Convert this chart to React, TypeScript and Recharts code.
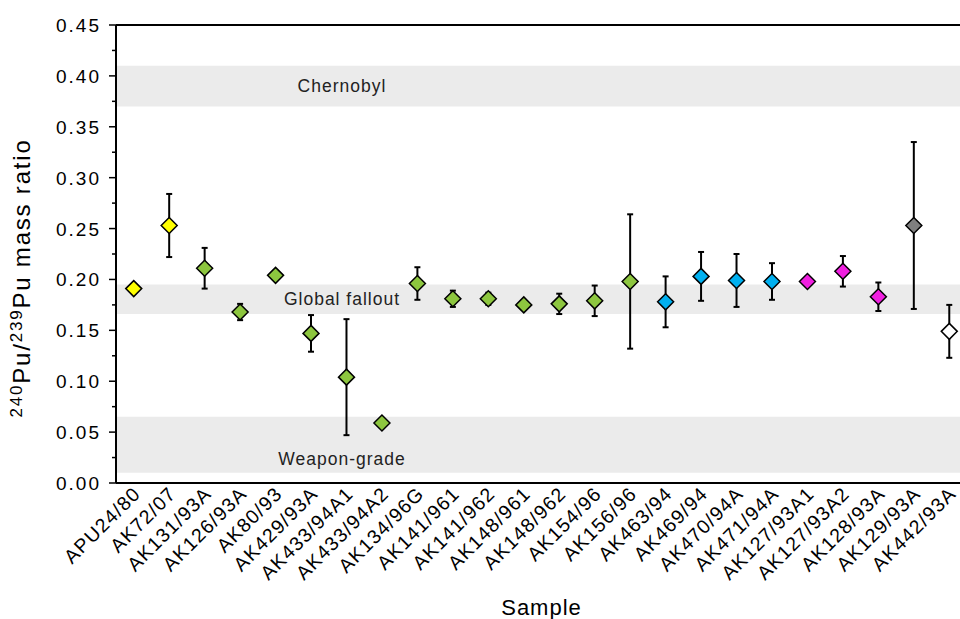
import React from 'react';
import {
  ComposedChart,
  Scatter,
  ErrorBar,
  XAxis,
  YAxis,
  ReferenceArea,
  ReferenceLine,
  Label,
} from 'recharts';

const samples = [
  'APU24/80', 'AK72/07', 'AK131/93A', 'AK126/93A', 'AK80/93', 'AK429/93A',
  'AK433/94A1', 'AK433/94A2', 'AK134/96G', 'AK141/961', 'AK141/962', 'AK148/961',
  'AK148/962', 'AK154/96', 'AK156/96', 'AK463/94', 'AK469/94', 'AK470/94A',
  'AK471/94A', 'AK127/93A1', 'AK127/93A2', 'AK128/93A', 'AK129/93A', 'AK442/93A',
];
const ratios = [
  0.191, 0.253, 0.211, 0.168, 0.204, 0.147, 0.104, 0.059, 0.196, 0.181, 0.181, 0.175,
  0.176, 0.179, 0.198, 0.178, 0.203, 0.199, 0.198, 0.198, 0.208, 0.183, 0.253, 0.149,
];
const errors = [
  0.004, 0.031, 0.020, 0.008, 0.004, 0.018, 0.057, 0.0, 0.016, 0.008, 0.006, 0.003,
  0.010, 0.015, 0.066, 0.025, 0.024, 0.026, 0.018, 0.0, 0.015, 0.014, 0.082, 0.026,
];
const colors = [
  '#ffff00', '#ffff00', '#8dc63f', '#8dc63f', '#8dc63f', '#8dc63f', '#8dc63f', '#8dc63f',
  '#8dc63f', '#8dc63f', '#8dc63f', '#8dc63f', '#8dc63f', '#8dc63f', '#8dc63f', '#00b0f0',
  '#00b0f0', '#00b0f0', '#00b0f0', '#f020e0', '#f020e0', '#f020e0', '#7f7f7f', '#ffffff',
];

const bands = [
  { name: 'Chernobyl', from: 0.37, to: 0.41, pos: 0.5 },
  { name: 'Global fallout', from: 0.166, to: 0.195, pos: 0.5 },
  { name: 'Weapon-grade', from: 0.01, to: 0.065, pos: 0.76 },
];

const yTicks = [0, 0.025, 0.05, 0.075, 0.1, 0.125, 0.15, 0.175, 0.2, 0.225, 0.25, 0.275, 0.3, 0.325, 0.35, 0.375, 0.4, 0.425, 0.45];

const data = samples.map((name, i) => ({ name, ratio: ratios[i], err: errors[i], color: colors[i] }));

const FONT = '"Liberation Sans", Arial, sans-serif';

const Diamond = (props: any) => {
  const { cx, cy, payload } = props;
  const s = 8;
  return (
    <path
      d={`M${cx},${cy - s}L${cx + s},${cy}L${cx},${cy + s}L${cx - s},${cy}Z`}
      fill={payload.color}
      stroke="#000"
      strokeWidth={1.5}
    />
  );
};

const YTick = (props: any) => {
  const { x, y, payload, index } = props;
  const axisX = x + 11;
  const major = index % 2 === 0;
  return (
    <g>
      <line x1={axisX} x2={axisX - (major ? 7 : 4)} y1={y} y2={y} stroke="#000" strokeWidth={1.5} />
      {major && (
        <text x={x - 4} y={y} dy={7} textAnchor="end" fontSize={19} letterSpacing={2} fontFamily={FONT} fill="#000">
          {payload.value.toFixed(2)}
        </text>
      )}
    </g>
  );
};

const XTick = (props: any) => {
  const { x, y, payload } = props;
  const ax = x + 8;
  const ay = y + 4;
  return (
    <text
      x={ax}
      y={ay}
      textAnchor="end"
      fontSize={19.5}
      letterSpacing={1.2}
      fontFamily={FONT}
      fill="#000"
      transform={`rotate(-45, ${ax}, ${ay})`}
    >
      {payload.value}
    </text>
  );
};

const BandLabel = (props: any) => {
  const { viewBox, text, pos } = props;
  return (
    <text
      x={viewBox.x + 226}
      y={viewBox.y + viewBox.height * pos}
      dy={6}
      textAnchor="middle"
      fontSize={17.5}
      letterSpacing={1}
      fontFamily={FONT}
      fill="#222"
    >
      {text}
    </text>
  );
};

const YTitle = (props: any) => {
  const { viewBox } = props;
  const cx = 30;
  const cy = viewBox.y + viewBox.height / 2 + 24;
  return (
    <text
      x={cx}
      y={cy}
      textAnchor="middle"
      fontSize={24}
      letterSpacing={1.8}
      fontFamily={FONT}
      fill="#000"
      transform={`rotate(-90, ${cx}, ${cy})`}
    >
      <tspan fontSize={17} dy={-8}>240</tspan>
      <tspan dy={8}>Pu/</tspan>
      <tspan fontSize={17} dy={-8}>239</tspan>
      <tspan dy={8}>Pu mass ratio</tspan>
    </text>
  );
};

export default function App() {
  return (
    <div style={{ position: 'fixed', left: 0, top: 0, width: 960, height: 619, overflow: 'hidden', background: '#fff' }}>
      <ComposedChart
        width={975}
        height={619}
        data={data}
        margin={{ top: 25, right: 8, left: 0, bottom: 0 }}
      >
        {bands.map((b) => (
          <ReferenceArea
            key={b.name}
            y1={b.from}
            y2={b.to}
            fill="#ebebeb"
            fillOpacity={1}
            stroke="none"
            label={<BandLabel text={b.name} pos={b.pos} />}
          />
        ))}
        <XAxis
          dataKey="name"
          type="category"
          scale="band"
          height={136}
          interval={0}
          tickLine={false}
          axisLine={{ stroke: '#000', strokeWidth: 2 }}
          tick={<XTick />}
        >
          <Label value="Sample" position="insideBottom" offset={4} fontSize={22} letterSpacing={1} fontFamily={FONT} fill="#000" />
        </XAxis>
        <YAxis
          type="number"
          domain={[0, 0.45]}
          ticks={yTicks}
          interval={0}
          width={116}
          tickLine={false}
          tickSize={7}
          tickMargin={4}
          axisLine={{ stroke: '#000', strokeWidth: 2 }}
          tick={<YTick />}
        >
          <Label content={<YTitle />} />
        </YAxis>
        <ReferenceLine y={0.45} stroke="#000" strokeWidth={2} />
        <Scatter dataKey="ratio" shape={<Diamond />} isAnimationActive={false}>
          <ErrorBar dataKey="err" direction="y" width={3} stroke="#000" strokeWidth={2} />
        </Scatter>
      </ComposedChart>
    </div>
  );
}
